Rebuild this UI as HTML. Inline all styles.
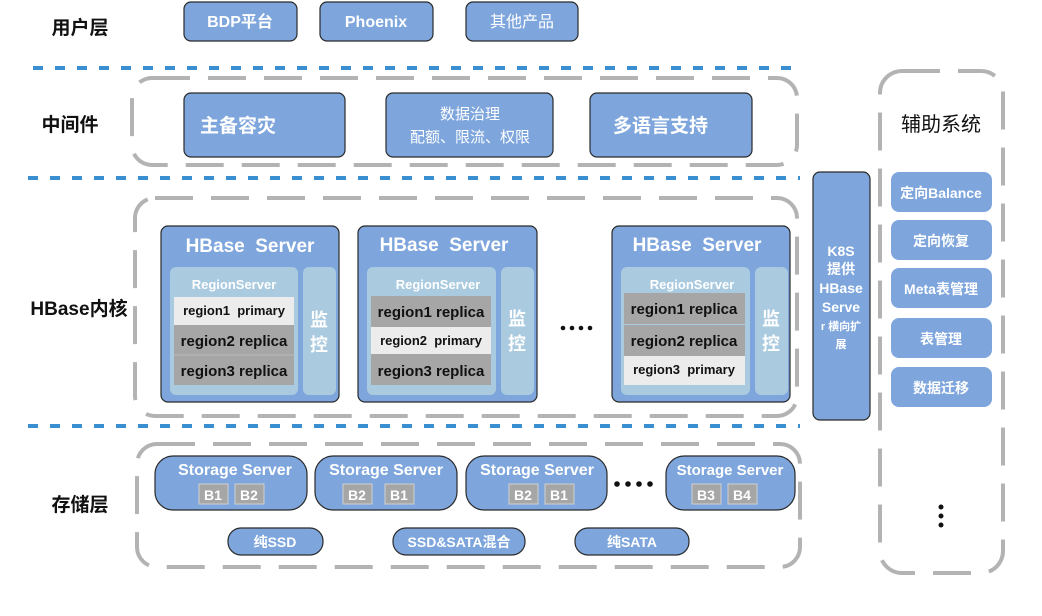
<!DOCTYPE html>
<html><head><meta charset="utf-8">
<style>
html,body{margin:0;padding:0;background:#fff;}
svg{display:block;}
text{font-family:"Liberation Sans","Noto Sans CJK SC",sans-serif;font-weight:bold;}
.n{font-weight:normal;}
.w{fill:#fff;}
.k{fill:#111;}
.box{fill:#7ea6dd;stroke:#2a2a2a;stroke-width:1.2;}
.box2{fill:#7ea6dd;}
.gd{fill:none;stroke:#b3b3b3;stroke-width:4;stroke-dasharray:38 18;}
.bl{stroke:#3a8fd0;stroke-width:4;stroke-dasharray:10 12;}
.inner{fill:#a9cadf;}
.rg{fill:#a6a6a6;}
.rl{fill:#ececec;}
.bb{fill:#a6a6a6;stroke:#d0d0d0;stroke-width:1;}
</style></head>
<body>
<svg width="1042" height="616" viewBox="0 0 1042 616" xmlns="http://www.w3.org/2000/svg">
<text x="80" y="34" font-size="19" class="k" text-anchor="middle">用户层</text>
<text x="70" y="131" font-size="19" class="k" text-anchor="middle">中间件</text>
<text x="79" y="315" font-size="19" class="k" text-anchor="middle">HBase内核</text>
<text x="80" y="511" font-size="19" class="k" text-anchor="middle">存储层</text>

<rect class="box" x="184" y="2" width="113" height="39" rx="7"/>
<text x="240" y="27" font-size="16" class="w" text-anchor="middle">BDP平台</text>
<rect class="box" x="320" y="2" width="113" height="39" rx="7"/>
<text x="376" y="27" font-size="16" class="w" text-anchor="middle">Phoenix</text>
<rect class="box" x="466" y="2" width="112" height="39" rx="7"/>
<text x="522" y="27" font-size="16" class="w n" text-anchor="middle">其他产品</text>

<line class="bl" x1="33" y1="68" x2="800" y2="68"/>
<line class="bl" x1="28" y1="178" x2="800" y2="178"/>
<line class="bl" x1="28" y1="426" x2="800" y2="426"/>

<rect class="gd" x="132" y="78" width="665" height="87" rx="20"/>
<rect class="box" x="184" y="93" width="161" height="64" rx="7"/>
<text x="200" y="132" font-size="19" class="w">主备容灾</text>
<rect class="box" x="386" y="93" width="167" height="64" rx="7"/>
<text x="470" y="119" font-size="15" class="w n" text-anchor="middle">数据治理</text>
<text x="470" y="142" font-size="15" class="w n" text-anchor="middle">配额、限流、权限</text>
<rect class="box" x="590" y="93" width="162" height="64" rx="7"/>
<text x="613" y="132" font-size="19" class="w">多语言支持</text>

<rect class="gd" x="135" y="198" width="662" height="218" rx="20"/>

<g>
<rect class="box" x="161" y="226" width="178" height="176" rx="7"/>
<text x="250" y="252" font-size="19" class="w" text-anchor="middle" xml:space="preserve">HBase  Server</text>
<rect class="inner" x="170" y="267" width="128" height="128" rx="6"/>
<rect class="inner" x="303" y="267" width="33" height="128" rx="6"/>
<text x="234" y="289" font-size="13" class="w" text-anchor="middle">RegionServer</text>
<rect class="rl" x="174" y="297" width="120" height="28"/>
<rect class="rg" x="174" y="325" width="120" height="30"/>
<rect class="rg" x="174" y="355" width="120" height="30"/>
<line x1="174" y1="355" x2="294" y2="355" stroke="#bbb"/>
<text x="234" y="315" font-size="13" class="k" text-anchor="middle" xml:space="preserve">region1  primary</text>
<text x="234" y="346" font-size="15" class="k" text-anchor="middle">region2 replica</text>
<text x="234" y="376" font-size="15" class="k" text-anchor="middle">region3 replica</text>
<text x="319" y="326" font-size="18" class="w" text-anchor="middle">监</text>
<text x="319" y="351" font-size="18" class="w" text-anchor="middle">控</text>
</g>
<g>
<rect class="box" x="358" y="226" width="179" height="176" rx="7"/>
<text x="444" y="251" font-size="19" class="w" text-anchor="middle" xml:space="preserve">HBase  Server</text>
<rect class="inner" x="367" y="267" width="129" height="128" rx="6"/>
<rect class="inner" x="501" y="267" width="33" height="128" rx="6"/>
<text x="438" y="289" font-size="13" class="w" text-anchor="middle">RegionServer</text>
<rect class="rg" x="371" y="296" width="120" height="31"/>
<rect class="rl" x="371" y="327" width="120" height="27"/>
<rect class="rg" x="371" y="354" width="120" height="31"/>
<text x="431" y="317" font-size="15" class="k" text-anchor="middle">region1 replica</text>
<text x="431" y="345" font-size="13" class="k" text-anchor="middle" xml:space="preserve">region2  primary</text>
<text x="431" y="376" font-size="15" class="k" text-anchor="middle">region3 replica</text>
<text x="517" y="325" font-size="18" class="w" text-anchor="middle">监</text>
<text x="517" y="350" font-size="18" class="w" text-anchor="middle">控</text>
</g>
<g fill="#111">
<circle cx="563" cy="328" r="2.3"/><circle cx="572" cy="328" r="2.3"/><circle cx="581" cy="328" r="2.3"/><circle cx="590" cy="328" r="2.3"/>
</g>
<g>
<rect class="box" x="612" y="226" width="178" height="176" rx="7"/>
<text x="697" y="251" font-size="19" class="w" text-anchor="middle" xml:space="preserve">HBase  Server</text>
<rect class="inner" x="621" y="267" width="129" height="128" rx="6"/>
<rect class="inner" x="755" y="267" width="33" height="128" rx="6"/>
<text x="692" y="289" font-size="13" class="w" text-anchor="middle">RegionServer</text>
<rect class="rg" x="624" y="293" width="121" height="31"/>
<rect class="rg" x="624" y="325" width="121" height="31"/>
<rect class="rl" x="624" y="356" width="121" height="29"/>
<text x="684" y="314" font-size="15" class="k" text-anchor="middle">region1 replica</text>
<text x="684" y="346" font-size="15" class="k" text-anchor="middle">region2 replica</text>
<text x="684" y="374" font-size="13" class="k" text-anchor="middle" xml:space="preserve">region3  primary</text>
<text x="771" y="325" font-size="18" class="w" text-anchor="middle">监</text>
<text x="771" y="350" font-size="18" class="w" text-anchor="middle">控</text>
</g>

<rect class="box" x="813" y="172" width="57" height="248" rx="7"/>
<text x="841" y="256" font-size="14" class="w" text-anchor="middle">K8S</text>
<text x="841" y="274" font-size="14" class="w" text-anchor="middle">提供</text>
<text x="841" y="293" font-size="14" class="w" text-anchor="middle">HBase</text>
<text x="841" y="312" font-size="14" class="w" text-anchor="middle">Serve</text>
<text x="841" y="330" font-size="11" class="w" text-anchor="middle">r 横向扩</text>
<text x="841" y="348" font-size="11" class="w" text-anchor="middle">展</text>

<rect class="gd" x="137" y="444" width="663" height="123" rx="20"/>
<rect class="box" x="155" y="456" width="152" height="54" rx="18"/>
<text x="235" y="475" font-size="16" class="w" text-anchor="middle">Storage Server</text>
<rect class="bb" x="199" y="484" width="29" height="20"/><text x="213" y="500" font-size="14" class="w" text-anchor="middle">B1</text>
<rect class="bb" x="235" y="484" width="29" height="20"/><text x="249" y="500" font-size="14" class="w" text-anchor="middle">B2</text>

<rect class="box" x="315" y="456" width="142" height="54" rx="18"/>
<text x="386" y="475" font-size="16" class="w" text-anchor="middle">Storage Server</text>
<rect class="bb" x="343" y="484" width="29" height="20"/><text x="357" y="500" font-size="14" class="w" text-anchor="middle">B2</text>
<rect class="bb" x="385" y="484" width="29" height="20"/><text x="399" y="500" font-size="14" class="w" text-anchor="middle">B1</text>

<rect class="box" x="466" y="456" width="141" height="54" rx="18"/>
<text x="537" y="475" font-size="16" class="w" text-anchor="middle">Storage Server</text>
<rect class="bb" x="509" y="484" width="29" height="20"/><text x="523" y="500" font-size="14" class="w" text-anchor="middle">B2</text>
<rect class="bb" x="545" y="484" width="29" height="20"/><text x="559" y="500" font-size="14" class="w" text-anchor="middle">B1</text>

<g fill="#111">
<circle cx="617" cy="484" r="2.8"/><circle cx="628" cy="484" r="2.8"/><circle cx="639" cy="484" r="2.8"/><circle cx="650" cy="484" r="2.8"/>
</g>

<rect class="box" x="666" y="456" width="129" height="54" rx="18"/>
<text x="730" y="475" font-size="15" class="w" text-anchor="middle">Storage Server</text>
<rect class="bb" x="692" y="484" width="29" height="20"/><text x="706" y="500" font-size="14" class="w" text-anchor="middle">B3</text>
<rect class="bb" x="728" y="484" width="29" height="20"/><text x="742" y="500" font-size="14" class="w" text-anchor="middle">B4</text>

<rect class="box" x="228" y="528" width="95" height="27" rx="13"/>
<text x="275" y="547" font-size="14" class="w" text-anchor="middle">纯SSD</text>
<rect class="box" x="393" y="528" width="132" height="27" rx="13"/>
<text x="459" y="547" font-size="14" class="w" text-anchor="middle">SSD&amp;SATA混合</text>
<rect class="box" x="575" y="528" width="114" height="27" rx="13"/>
<text x="632" y="547" font-size="14" class="w" text-anchor="middle">纯SATA</text>

<rect class="gd" x="880" y="71" width="123" height="502" rx="22"/>
<text x="941" y="131" font-size="20" class="k n" text-anchor="middle">辅助系统</text>
<rect class="box2" x="891" y="172" width="101" height="40" rx="8"/>
<text x="941" y="198" font-size="14" class="w" text-anchor="middle">定向Balance</text>
<rect class="box2" x="891" y="220" width="101" height="40" rx="8"/>
<text x="941" y="246" font-size="14" class="w" text-anchor="middle">定向恢复</text>
<rect class="box2" x="891" y="268" width="101" height="40" rx="8"/>
<text x="941" y="294" font-size="14" class="w" text-anchor="middle">Meta表管理</text>
<rect class="box2" x="891" y="318" width="101" height="40" rx="8"/>
<text x="941" y="344" font-size="14" class="w" text-anchor="middle">表管理</text>
<rect class="box2" x="891" y="367" width="101" height="40" rx="8"/>
<text x="941" y="393" font-size="14" class="w" text-anchor="middle">数据迁移</text>
<circle cx="941" cy="507" r="2.5" fill="#111"/>
<circle cx="941" cy="516" r="2.5" fill="#111"/>
<circle cx="941" cy="525" r="2.5" fill="#111"/>
</svg>
</body></html>
